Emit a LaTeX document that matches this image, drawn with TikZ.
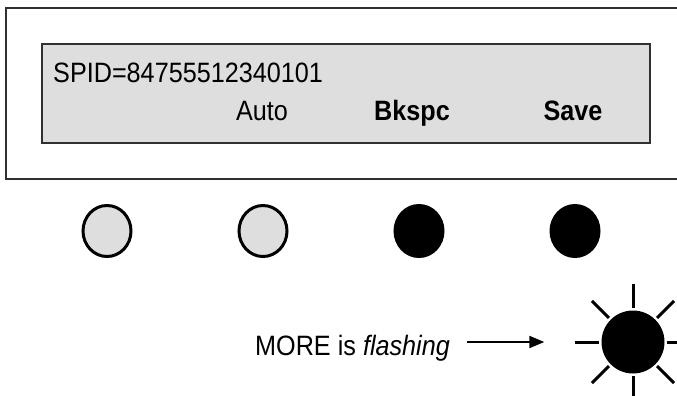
\documentclass[tikz,border=0pt]{standalone}
\usepackage{fontspec}
\setmainfont{Liberation Sans}[FakeStretch=0.9]
\usetikzlibrary{arrows.meta,shapes.geometric}
\definecolor{panel}{HTML}{DEDEDE}
\definecolor{edge}{HTML}{303030}
\tikzset{
  frame/.style={draw=edge, line width=2pt, anchor=north west, inner sep=0},
  lbl/.style={font=\fontsize{28}{30}\selectfont, inner sep=0, text=black},
  btnoff/.style={ellipse, draw=black, line width=3pt, fill=panel, minimum width=48pt, minimum height=51pt, inner sep=0},
  btnon/.style={btnoff, fill=black},
  sunbody/.style={circle, fill=black, minimum size=63pt, inner sep=0},
  ray/.style={line width=3pt},
  pointer/.style={line width=2pt, -{Triangle[length=15pt,width=12pt]}}
}
\begin{document}
\begin{tikzpicture}[x=1pt,y=-1pt]
\useasboundingbox (0,0) rectangle (677,396);
\clip (0,0) rectangle (677,396);
\node[frame, minimum width=700pt, minimum height=171pt] (outer) at (5,7) {};
\node[frame, fill=panel, minimum width=608pt, minimum height=99pt] (lcd) at (41,43) {};
\node[lbl, anchor=base west] (spid) at (53,82) {SPID=84755512340101};
\node[lbl, anchor=base] (auto) at (262,120) {Auto};
\node[lbl, anchor=base] (bksp) at (412,120) {\bfseries Bkspc};
\node[lbl, anchor=base] (save) at (573,120) {\bfseries Save};
\node[btnoff] (b1) at (107,231) {};
\node[btnoff] (b2) at (263,231) {};
\node[btnon] (b3) at (419,231) {};
\node[btnon] (b4) at (575,231) {};
\node[sunbody] (sun) at (633,342) {};
\foreach \a in {0,45,...,315}
  \draw[ray] (sun.center) ++(\a:34) -- ++(\a:24);
\node[lbl, anchor=base west] (more) at (255,355) {MORE is \itshape flashing};
\draw[pointer, shorten <=17pt, shorten >=57pt] (more.east |- sun.west) -- (sun.west);
\end{tikzpicture}
\end{document}
